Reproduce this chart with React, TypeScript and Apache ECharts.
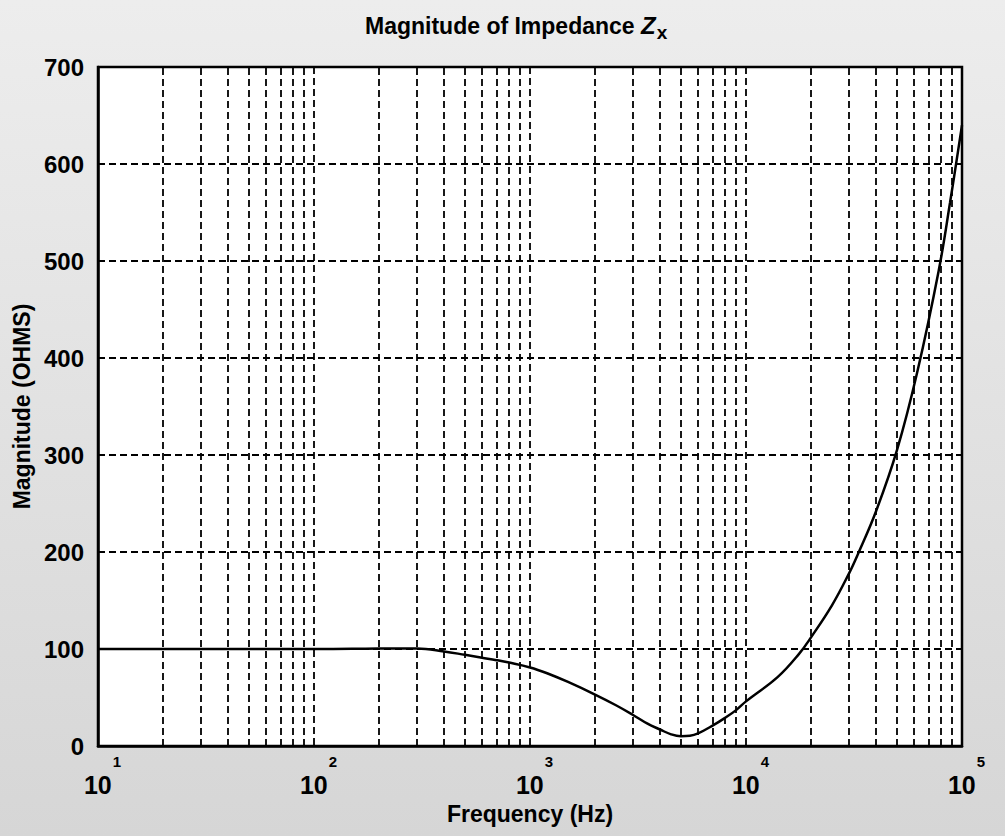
import React, { useEffect, useRef } from "react";
import * as echarts from "echarts";

const freqHz = [10, 20, 50, 100, 150, 200, 300, 400, 500, 600, 700, 800, 1000, 1200, 1500, 2000, 2500, 3000, 3500, 4000, 4500, 5000, 5500, 6000, 7000, 8000, 9000, 10000, 14000, 17600, 20000, 25000, 30000, 33000, 40000, 50000, 62000, 78000, 88000, 100000];
const magnitudeOhms = [100, 100, 100, 100, 100.2, 100.4, 100.5, 97.5, 94, 91, 88.5, 86, 81, 75, 66, 53, 42, 32, 23, 17, 12, 10, 10.5, 13, 21, 29, 37, 46, 71, 95, 112, 145, 178, 198, 242, 305, 385, 490, 560, 640];
const minorGridFreqs = [20, 30, 40, 50, 60, 70, 80, 90, 200, 300, 400, 500, 600, 700, 800, 900, 2000, 3000, 4000, 5000, 6000, 7000, 8000, 9000, 20000, 30000, 40000, 50000, 60000, 70000, 80000, 90000];
const yMin = 0;
const yMax = 700;
const yStep = 100;

const FONT = "'Liberation Sans', Arial, Helvetica, sans-serif";
const gridDash = { color: "#000", width: 1.8, type: [7, 4] as number[] };

export default function App() {
  const ref = useRef<HTMLDivElement>(null);
  useEffect(() => {
    if (!ref.current) return;
    const chart = echarts.init(ref.current, null, { renderer: "svg" });
    const data = freqHz.map((f, i) => [f, magnitudeOhms[i]]);
    chart.setOption({
      animation: false,
      backgroundColor: "transparent",
      textStyle: { fontFamily: FONT, color: "#000" },
      title: {
        left: 360,
        top: 4,
        text: "{t|Magnitude of Impedance }{z|Z}{x|x}",
        textStyle: {
          rich: {
            t: { fontFamily: FONT, fontSize: 23, fontWeight: "bold", color: "#000" },
            z: { fontFamily: FONT, fontSize: 24, fontWeight: "bold", fontStyle: "italic", color: "#000" },
            x: { fontFamily: FONT, fontSize: 19, fontWeight: "bold", color: "#000", padding: [14, 0, 0, 1] },
          },
        },
      },
      grid: {
        left: 98,
        right: 43,
        top: 67,
        bottom: 90,
        show: true,
        backgroundColor: "#fff",
        borderColor: "#000",
        borderWidth: 2.5,
      },
      xAxis: {
        type: "log",
        logBase: 10,
        min: 10,
        max: 100000,
        name: "Frequency (Hz)",
        nameLocation: "middle",
        nameGap: 56,
        nameTextStyle: { fontFamily: FONT, fontSize: 23, fontWeight: "bold", color: "#000", verticalAlign: "top" },
        axisLine: { show: true, lineStyle: { color: "#000", width: 2.5 } },
        axisTick: { show: false },
        splitLine: { show: true, lineStyle: gridDash },
        axisLabel: {
          margin: 8,
          formatter: (v: number) => {
            const e = Math.round(Math.log10(v));
            return "{p|}{b|10}{s|" + e + "}";
          },
          rich: {
            p: { width: 9 },
            b: { fontFamily: FONT, fontSize: 25, fontWeight: "bold", color: "#000" },
            s: { fontFamily: FONT, fontSize: 15, fontWeight: "bold", color: "#000", padding: [0, 0, 46, 1] },
          },
        },
      },
      yAxis: {
        type: "value",
        min: yMin,
        max: yMax,
        interval: yStep,
        name: "Magnitude (OHMS)",
        nameLocation: "middle",
        nameGap: 57,
        nameTextStyle: { fontFamily: FONT, fontSize: 23, fontWeight: "bold", color: "#000" },
        axisLine: { show: true, lineStyle: { color: "#000", width: 2.5 } },
        axisTick: { show: false },
        splitLine: { show: true, lineStyle: gridDash },
        axisLabel: { fontFamily: FONT, fontSize: 24, fontWeight: "bold", color: "#000", margin: 14 },
      },
      series: [
        {
          type: "line",
          data,
          smooth: 0.4,
          showSymbol: false,
          symbol: "none",
          lineStyle: { color: "#000", width: 2.5 },
          markLine: {
            silent: true,
            symbol: ["none", "none"],
            label: { show: false },
            lineStyle: gridDash,
            data: minorGridFreqs.map((v) => ({ xAxis: v })),
          },
          z: 5,
        },
      ],
    });
    return () => chart.dispose();
  }, []);
  return (
    <div
      ref={ref}
      style={{
        position: "absolute",
        left: 0,
        top: 0,
        width: 1005,
        height: 836,
        background: "linear-gradient(#ededed, #d6d6d6)",
      }}
    />
  );
}
